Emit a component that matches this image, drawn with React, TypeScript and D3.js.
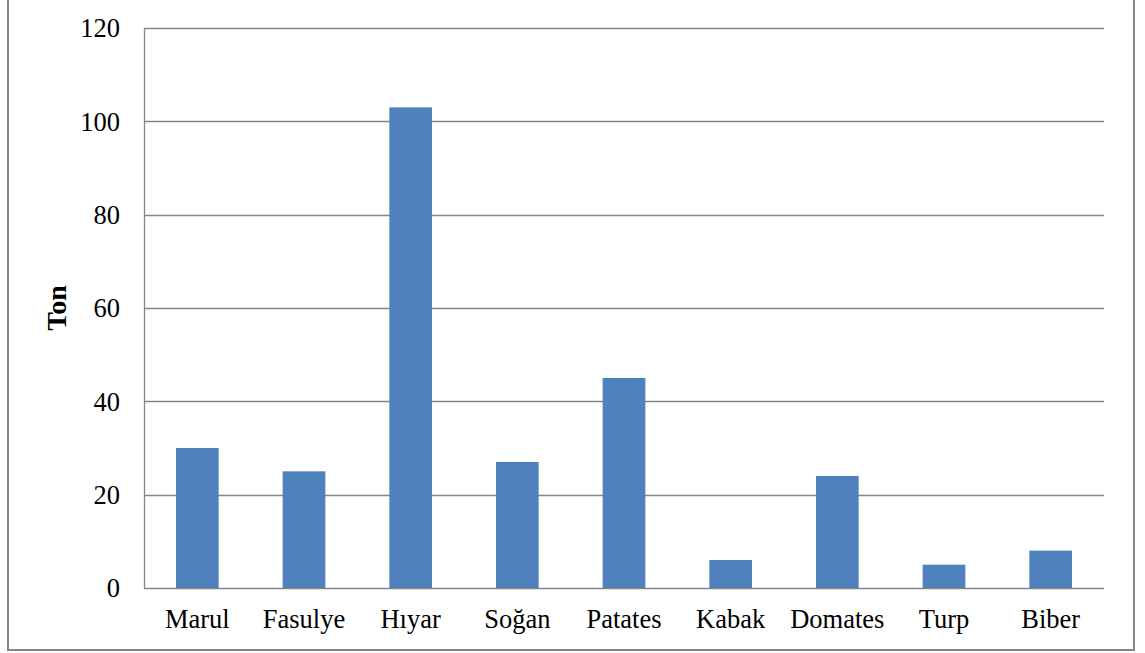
import { useEffect, useRef } from 'react'
import * as d3 from 'd3'

const categories = ['Marul', 'Fasulye', 'Hıyar', 'Soğan', 'Patates', 'Kabak', 'Domates', 'Turp', 'Biber']
const values = [30, 25, 103, 27, 45, 6, 24, 5, 8]
const yTicks = [0, 20, 40, 60, 80, 100, 120]
const yLabel = 'Ton'

const W = 1145
const H = 653
const FONT = '"Liberation Serif", "Times New Roman", serif'

export default function App() {
  const ref = useRef<SVGSVGElement | null>(null)

  useEffect(() => {
    if (!ref.current) {return}
    const svg = d3.select(ref.current)
    svg.selectAll('*').remove()

    const margin = { top: 28, right: 41, bottom: 65, left: 144 }
    const innerWidth = W - margin.left - margin.right
    const innerHeight = H - margin.top - margin.bottom

    // outer frame (top edge is cut off in the original)
    svg
      .append('rect')
      .attr('x', 8)
      .attr('y', -4)
      .attr('width', 1126)
      .attr('height', 654)
      .attr('fill', 'none')
      .attr('stroke', '#868686')
      .attr('stroke-width', 2)

    const x = d3
      .scaleBand()
      .domain(categories)
      .range([0, innerWidth])
      .paddingInner(0.6)
      .paddingOuter(0.3)

    const y = d3.scaleLinear().domain([0, 120]).range([innerHeight, 0])

    const root = svg.append('g').attr('transform', `translate(${margin.left},${margin.top})`)

    // gridlines
    root
      .append('g')
      .selectAll('line')
      .data(yTicks)
      .join('line')
      .attr('x1', 0)
      .attr('x2', innerWidth)
      .attr('y1', (d) => Math.round(y(d)) + 0.5)
      .attr('y2', (d) => Math.round(y(d)) + 0.5)
      .attr('stroke', '#868686')
      .attr('stroke-width', 1.3)

    // left axis line
    root
      .append('line')
      .attr('x1', 0.5)
      .attr('x2', 0.5)
      .attr('y1', 0)
      .attr('y2', innerHeight)
      .attr('stroke', '#868686')
      .attr('stroke-width', 1.3)

    // bars
    root
      .append('g')
      .selectAll('rect')
      .data(values)
      .join('rect')
      .attr('x', (_, i) => x(categories[i]) ?? 0)
      .attr('width', x.bandwidth())
      .attr('y', (d) => y(d))
      .attr('height', (d) => innerHeight - y(d))
      .attr('fill', '#4F81BD')

    // y tick labels
    root
      .append('g')
      .selectAll('text')
      .data(yTicks)
      .join('text')
      .attr('x', -24)
      .attr('y', (d) => y(d))
      .attr('dy', '0.35em')
      .attr('text-anchor', 'end')
      .attr('font-family', FONT)
      .attr('font-size', 26.5)
      .attr('fill', '#000')
      .text((d) => d)

    // x labels
    root
      .append('g')
      .selectAll('text')
      .data(categories)
      .join('text')
      .attr('x', (d) => (x(d) ?? 0) + x.bandwidth() / 2)
      .attr('y', innerHeight + 40)
      .attr('text-anchor', 'middle')
      .attr('font-family', FONT)
      .attr('font-size', 26.5)
      .attr('fill', '#000')
      .text((d) => d)

    // y axis title
    svg
      .append('text')
      .attr('transform', `translate(66,${margin.top + innerHeight / 2}) rotate(-90)`)
      .attr('text-anchor', 'middle')
      .attr('font-family', FONT)
      .attr('font-size', 28)
      .attr('font-weight', 'bold')
      .attr('fill', '#000')
      .text(yLabel)
  }, [])

  return (
    <svg
      ref={ref}
      width={W}
      height={H}
      role="img"
      aria-label="Bar chart"
      style={{ position: 'absolute', left: 0, top: 0, display: 'block', background: '#fff' }}
    />
  )
}
